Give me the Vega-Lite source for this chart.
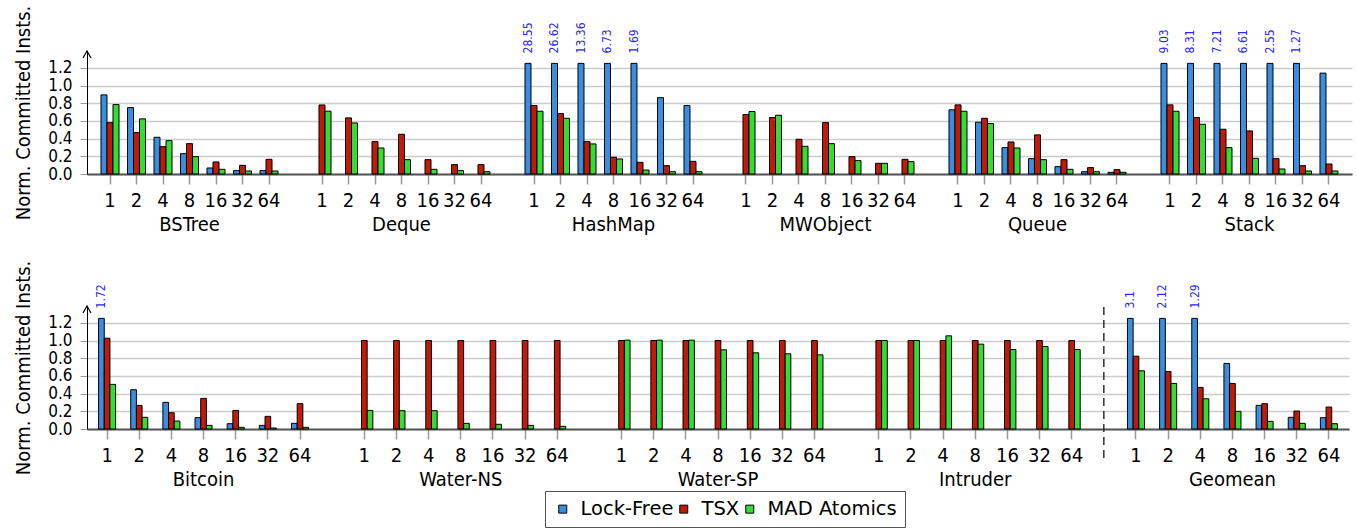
{
  "$schema": "https://vega.github.io/schema/vega-lite/v6.json",
  "padding": {"left": 13, "top": 5, "right": 5, "bottom": 5},
  "config": {
    "font": "DejaVu Sans Condensed",
    "view": {"stroke": null},
    "axis": {"labelFont": "DejaVu Sans Condensed", "titleFont": "DejaVu Sans Condensed", "labelColor": "black", "titleColor": "black", "titleFontWeight": "normal"},
    "axisX": {"domainColor": "#555555", "domainWidth": 2, "tickColor": "#999999", "tickSize": 10, "tickWidth": 1.5, "labelFontSize": 20, "labelPadding": 6, "labelLineHeight": 24, "grid": false, "title": null, "labelAngle": 0},
    "axisY": {"domainColor": "black", "domainWidth": 1, "tickColor": "#999999", "tickSize": 7, "labelFontSize": 17, "labelPadding": 8, "labelOverlap": false, "grid": true, "gridColor": "#cccccc", "gridWidth": 1.5, "titleFontSize": 20, "titlePadding": 14},
    "legend": {"orient": "none", "legendX": 458, "legendY": 440, "direction": "horizontal", "strokeColor": "#555555", "padding": 8, "symbolType": "square", "symbolSize": 64, "symbolStrokeColor": "black", "symbolStrokeWidth": 1, "labelFontSize": 19.5, "labelFont": "DejaVu Sans", "labelColor": "black", "columnPadding": 4, "labelOffset": 9}
  },
  "datasets": {
    "top": [
      {"g": "BSTree", "t": "1", "Lock-Free": 0.894, "TSX": 0.58, "MAD Atomics": 0.785},
      {"g": "BSTree", "t": "2", "Lock-Free": 0.75, "TSX": 0.468, "MAD Atomics": 0.623},
      {"g": "BSTree", "t": "4", "Lock-Free": 0.415, "TSX": 0.309, "MAD Atomics": 0.377},
      {"g": "BSTree", "t": "8", "Lock-Free": 0.23, "TSX": 0.343, "MAD Atomics": 0.196},
      {"g": "BSTree", "t": "16", "Lock-Free": 0.068, "TSX": 0.136, "MAD Atomics": 0.053},
      {"g": "BSTree", "t": "32", "Lock-Free": 0.038, "TSX": 0.098, "MAD Atomics": 0.034},
      {"g": "BSTree", "t": "64", "Lock-Free": 0.038, "TSX": 0.166, "MAD Atomics": 0.034},
      {"g": "Deque", "t": "1", "TSX": 0.78, "MAD Atomics": 0.71},
      {"g": "Deque", "t": "2", "TSX": 0.634, "MAD Atomics": 0.577},
      {"g": "Deque", "t": "4", "TSX": 0.366, "MAD Atomics": 0.294},
      {"g": "Deque", "t": "8", "TSX": 0.449, "MAD Atomics": 0.162},
      {"g": "Deque", "t": "16", "TSX": 0.162, "MAD Atomics": 0.053},
      {"g": "Deque", "t": "32", "TSX": 0.106, "MAD Atomics": 0.038},
      {"g": "Deque", "t": "64", "TSX": 0.106, "MAD Atomics": 0.026},
      {"g": "HashMap", "t": "1", "Lock-Free": 28.55, "TSX": 0.774, "MAD Atomics": 0.709},
      {"g": "HashMap", "t": "2", "Lock-Free": 26.62, "TSX": 0.683, "MAD Atomics": 0.63},
      {"g": "HashMap", "t": "4", "Lock-Free": 13.36, "TSX": 0.366, "MAD Atomics": 0.34},
      {"g": "HashMap", "t": "8", "Lock-Free": 6.73, "TSX": 0.189, "MAD Atomics": 0.17},
      {"g": "HashMap", "t": "16", "Lock-Free": 1.69, "TSX": 0.132, "MAD Atomics": 0.045},
      {"g": "HashMap", "t": "32", "Lock-Free": 0.863, "TSX": 0.094, "MAD Atomics": 0.026},
      {"g": "HashMap", "t": "64", "Lock-Free": 0.774, "TSX": 0.143, "MAD Atomics": 0.026},
      {"g": "MWObject", "t": "1", "TSX": 0.672, "MAD Atomics": 0.706},
      {"g": "MWObject", "t": "2", "TSX": 0.638, "MAD Atomics": 0.664},
      {"g": "MWObject", "t": "4", "TSX": 0.392, "MAD Atomics": 0.313},
      {"g": "MWObject", "t": "8", "TSX": 0.581, "MAD Atomics": 0.343},
      {"g": "MWObject", "t": "16", "TSX": 0.196, "MAD Atomics": 0.151},
      {"g": "MWObject", "t": "32", "TSX": 0.121, "MAD Atomics": 0.121},
      {"g": "MWObject", "t": "64", "TSX": 0.166, "MAD Atomics": 0.14},
      {"g": "Queue", "t": "1", "Lock-Free": 0.725, "TSX": 0.781, "MAD Atomics": 0.709},
      {"g": "Queue", "t": "2", "Lock-Free": 0.585, "TSX": 0.63, "MAD Atomics": 0.57},
      {"g": "Queue", "t": "4", "Lock-Free": 0.298, "TSX": 0.362, "MAD Atomics": 0.294},
      {"g": "Queue", "t": "8", "Lock-Free": 0.174, "TSX": 0.442, "MAD Atomics": 0.162},
      {"g": "Queue", "t": "16", "Lock-Free": 0.083, "TSX": 0.162, "MAD Atomics": 0.053},
      {"g": "Queue", "t": "32", "Lock-Free": 0.026, "TSX": 0.072, "MAD Atomics": 0.026},
      {"g": "Queue", "t": "64", "Lock-Free": 0.019, "TSX": 0.049, "MAD Atomics": 0.019},
      {"g": "Stack", "t": "1", "Lock-Free": 9.03, "TSX": 0.781, "MAD Atomics": 0.709},
      {"g": "Stack", "t": "2", "Lock-Free": 8.31, "TSX": 0.638, "MAD Atomics": 0.562},
      {"g": "Stack", "t": "4", "Lock-Free": 7.21, "TSX": 0.506, "MAD Atomics": 0.298},
      {"g": "Stack", "t": "8", "Lock-Free": 6.61, "TSX": 0.487, "MAD Atomics": 0.177},
      {"g": "Stack", "t": "16", "Lock-Free": 2.55, "TSX": 0.174, "MAD Atomics": 0.057},
      {"g": "Stack", "t": "32", "Lock-Free": 1.27, "TSX": 0.094, "MAD Atomics": 0.034},
      {"g": "Stack", "t": "64", "Lock-Free": 1.14, "TSX": 0.113, "MAD Atomics": 0.034}
    ],
    "bottom": [
      {"g": "Bitcoin", "t": "1", "Lock-Free": 1.72, "TSX": 1.026, "MAD Atomics": 0.504},
      {"g": "Bitcoin", "t": "2", "Lock-Free": 0.444, "TSX": 0.267, "MAD Atomics": 0.132},
      {"g": "Bitcoin", "t": "4", "Lock-Free": 0.301, "TSX": 0.184, "MAD Atomics": 0.09},
      {"g": "Bitcoin", "t": "8", "Lock-Free": 0.128, "TSX": 0.346, "MAD Atomics": 0.041},
      {"g": "Bitcoin", "t": "16", "Lock-Free": 0.06, "TSX": 0.21, "MAD Atomics": 0.019},
      {"g": "Bitcoin", "t": "32", "Lock-Free": 0.041, "TSX": 0.143, "MAD Atomics": 0.011},
      {"g": "Bitcoin", "t": "64", "Lock-Free": 0.064, "TSX": 0.286, "MAD Atomics": 0.019},
      {"g": "Water-NS", "t": "1", "TSX": 1.0, "MAD Atomics": 0.21},
      {"g": "Water-NS", "t": "2", "TSX": 1.0, "MAD Atomics": 0.207},
      {"g": "Water-NS", "t": "4", "TSX": 1.0, "MAD Atomics": 0.207},
      {"g": "Water-NS", "t": "8", "TSX": 1.0, "MAD Atomics": 0.064},
      {"g": "Water-NS", "t": "16", "TSX": 1.0, "MAD Atomics": 0.053},
      {"g": "Water-NS", "t": "32", "TSX": 1.0, "MAD Atomics": 0.041},
      {"g": "Water-NS", "t": "64", "TSX": 1.0, "MAD Atomics": 0.03},
      {"g": "Water-SP", "t": "1", "TSX": 1.0, "MAD Atomics": 1.004},
      {"g": "Water-SP", "t": "2", "TSX": 1.0, "MAD Atomics": 1.004},
      {"g": "Water-SP", "t": "4", "TSX": 1.0, "MAD Atomics": 1.004},
      {"g": "Water-SP", "t": "8", "TSX": 1.0, "MAD Atomics": 0.895},
      {"g": "Water-SP", "t": "16", "TSX": 1.0, "MAD Atomics": 0.861},
      {"g": "Water-SP", "t": "32", "TSX": 1.0, "MAD Atomics": 0.85},
      {"g": "Water-SP", "t": "64", "TSX": 1.0, "MAD Atomics": 0.838},
      {"g": "Intruder", "t": "1", "TSX": 1.0, "MAD Atomics": 1.0},
      {"g": "Intruder", "t": "2", "TSX": 1.0, "MAD Atomics": 1.0},
      {"g": "Intruder", "t": "4", "TSX": 1.0, "MAD Atomics": 1.053},
      {"g": "Intruder", "t": "8", "TSX": 1.0, "MAD Atomics": 0.959},
      {"g": "Intruder", "t": "16", "TSX": 1.0, "MAD Atomics": 0.898},
      {"g": "Intruder", "t": "32", "TSX": 1.0, "MAD Atomics": 0.932},
      {"g": "Intruder", "t": "64", "TSX": 1.0, "MAD Atomics": 0.898},
      {"g": "Geomean", "t": "1", "Lock-Free": 3.1, "TSX": 0.823, "MAD Atomics": 0.658},
      {"g": "Geomean", "t": "2", "Lock-Free": 2.12, "TSX": 0.65, "MAD Atomics": 0.515},
      {"g": "Geomean", "t": "4", "Lock-Free": 1.29, "TSX": 0.47, "MAD Atomics": 0.342},
      {"g": "Geomean", "t": "8", "Lock-Free": 0.741, "TSX": 0.515, "MAD Atomics": 0.199},
      {"g": "Geomean", "t": "16", "Lock-Free": 0.267, "TSX": 0.286, "MAD Atomics": 0.086},
      {"g": "Geomean", "t": "32", "Lock-Free": 0.132, "TSX": 0.203, "MAD Atomics": 0.064},
      {"g": "Geomean", "t": "64", "Lock-Free": 0.128, "TSX": 0.248, "MAD Atomics": 0.06}
    ]
  },
  "bounds": "flush",
  "spacing": 132,
  "resolve": {"scale": {"x": "independent", "y": "independent", "xOffset": "independent", "color": "shared"}},
  "vconcat": [
    {
      "width": 1265,
      "height": 123,
      "resolve": {"scale": {"x": "independent"}, "axis": {"x": "independent"}},
      "layer": [
        {
          "data": {"name": "top"},
          "transform": [
            {"fold": ["Lock-Free", "TSX", "MAD Atomics"], "as": ["s", "v"]},
            {"filter": "isValid(datum.v)"},
            {"calculate": "datum.g + '|' + datum.t", "as": "key"},
            {"calculate": "min(datum.v, 1.25)", "as": "vc"}
          ],
          "encoding": {
            "x": {
              "field": "key", "type": "nominal",
              "scale": {"domain": ["BSTree|1","BSTree|2","BSTree|4","BSTree|8","BSTree|16","BSTree|32","BSTree|64","_1","Deque|1","Deque|2","Deque|4","Deque|8","Deque|16","Deque|32","Deque|64","_2","HashMap|1","HashMap|2","HashMap|4","HashMap|8","HashMap|16","HashMap|32","HashMap|64","_3","MWObject|1","MWObject|2","MWObject|4","MWObject|8","MWObject|16","MWObject|32","MWObject|64","_4","Queue|1","Queue|2","Queue|4","Queue|8","Queue|16","Queue|32","Queue|64","_5","Stack|1","Stack|2","Stack|4","Stack|8","Stack|16","Stack|32","Stack|64"], "paddingInner": 0.32, "paddingOuter": 0.528},
              "axis": {
                "values": ["BSTree|1","BSTree|2","BSTree|4","BSTree|8","BSTree|16","BSTree|32","BSTree|64","Deque|1","Deque|2","Deque|4","Deque|8","Deque|16","Deque|32","Deque|64","HashMap|1","HashMap|2","HashMap|4","HashMap|8","HashMap|16","HashMap|32","HashMap|64","MWObject|1","MWObject|2","MWObject|4","MWObject|8","MWObject|16","MWObject|32","MWObject|64","Queue|1","Queue|2","Queue|4","Queue|8","Queue|16","Queue|32","Queue|64","Stack|1","Stack|2","Stack|4","Stack|8","Stack|16","Stack|32","Stack|64"],
                "labelExpr": "split(datum.value, '|')[1] == '8' ? [split(datum.value, '|')[1], split(datum.value, '|')[0]] : split(datum.value, '|')[1]"
              }
            },
            "y": {
              "field": "vc", "type": "quantitative",
              "scale": {"domain": [0, 1.39], "nice": false},
              "axis": {"title": "Norm. Committed Insts.", "values": [0, 0.2, 0.4, 0.6, 0.8, 1.0, 1.2], "format": ".1f"}
            }
          },
          "layer": [
            {
              "mark": {"type": "bar", "stroke": "black", "strokeWidth": 1},
              "encoding": {
                "xOffset": {"field": "s", "type": "nominal", "scale": {"domain": ["Lock-Free", "TSX", "MAD Atomics"]}},
                "color": {"field": "s", "type": "nominal", "scale": {"domain": ["Lock-Free", "TSX", "MAD Atomics"], "range": ["#3a8ee0", "#c01a0a", "#33dd33"]}, "legend": {"title": null, "columnPadding": 0, "labelOffset": 8}}
              }
            },
            {
              "transform": [{"filter": "datum.v > 1.25"}],
              "mark": {"type": "text", "angle": 270, "align": "left", "baseline": "middle", "dx": 10, "fontSize": 12, "font": "DejaVu Sans Condensed", "color": "#2828ff"},
              "encoding": {
                "xOffset": {"field": "s", "type": "nominal", "scale": {"domain": ["Lock-Free", "TSX", "MAD Atomics"]}},
                "text": {"field": "v", "type": "nominal"}
              }
            }
          ]
        },
        {
          "data": {"values": [{"arrow": "y"}]},
          "mark": {"type": "point", "shape": "M-0.57,1L0,0L0.57,1", "filled": false, "stroke": "black", "strokeWidth": 1.2, "size": 196, "opacity": 1},
          "encoding": {
            "x": {"datum": 0, "type": "quantitative", "scale": {"domain": [0, 1]}, "axis": null},
            "y": {"datum": 1.39, "type": "quantitative", "axis": {"title": "Norm. Committed Insts.", "values": [0, 0.2, 0.4, 0.6, 0.8, 1.0, 1.2], "format": ".1f"}}
          }
        }
      ]
    },
    {
      "width": 1262,
      "height": 123,
      "resolve": {"scale": {"x": "independent"}, "axis": {"x": "independent"}},
      "layer": [
        {
          "layer": [
            {
              "data": {"name": "bottom"},
              "transform": [
                {"fold": ["Lock-Free", "TSX", "MAD Atomics"], "as": ["s", "v"]},
                {"filter": "isValid(datum.v)"},
                {"calculate": "datum.g + '|' + datum.t", "as": "key"},
                {"calculate": "min(datum.v, 1.25)", "as": "vc"}
              ],
              "encoding": {
                "x": {
                  "field": "key", "type": "nominal",
                  "scale": {"domain": ["Bitcoin|1","Bitcoin|2","Bitcoin|4","Bitcoin|8","Bitcoin|16","Bitcoin|32","Bitcoin|64","_1","Water-NS|1","Water-NS|2","Water-NS|4","Water-NS|8","Water-NS|16","Water-NS|32","Water-NS|64","_2","Water-SP|1","Water-SP|2","Water-SP|4","Water-SP|8","Water-SP|16","Water-SP|32","Water-SP|64","_3","Intruder|1","Intruder|2","Intruder|4","Intruder|8","Intruder|16","Intruder|32","Intruder|64","_4","Geomean|1","Geomean|2","Geomean|4","Geomean|8","Geomean|16","Geomean|32","Geomean|64"], "paddingInner": 0.47, "paddingOuter": 0.36},
                  "axis": {
                    "values": ["Bitcoin|1","Bitcoin|2","Bitcoin|4","Bitcoin|8","Bitcoin|16","Bitcoin|32","Bitcoin|64","Water-NS|1","Water-NS|2","Water-NS|4","Water-NS|8","Water-NS|16","Water-NS|32","Water-NS|64","Water-SP|1","Water-SP|2","Water-SP|4","Water-SP|8","Water-SP|16","Water-SP|32","Water-SP|64","Intruder|1","Intruder|2","Intruder|4","Intruder|8","Intruder|16","Intruder|32","Intruder|64","Geomean|1","Geomean|2","Geomean|4","Geomean|8","Geomean|16","Geomean|32","Geomean|64"],
                    "labelExpr": "split(datum.value, '|')[1] == '8' ? [split(datum.value, '|')[1], split(datum.value, '|')[0]] : split(datum.value, '|')[1]"
                  }
                },
                "y": {
                  "field": "vc", "type": "quantitative",
                  "scale": {"domain": [0, 1.39], "nice": false},
                  "axis": {"title": "Norm. Committed Insts.", "values": [0, 0.2, 0.4, 0.6, 0.8, 1.0, 1.2], "format": ".1f"}
                }
              },
              "layer": [
                {
                  "mark": {"type": "bar", "stroke": "black", "strokeWidth": 1},
                  "encoding": {
                    "xOffset": {"field": "s", "type": "nominal", "scale": {"domain": ["Lock-Free", "TSX", "MAD Atomics"]}},
                    "color": {"field": "s", "type": "nominal", "scale": {"domain": ["Lock-Free", "TSX", "MAD Atomics"], "range": ["#3a8ee0", "#c01a0a", "#33dd33"]}, "legend": {"title": null, "columnPadding": 0, "labelOffset": 8}}
                  }
                },
                {
                  "transform": [{"filter": "datum.v > 1.25"}],
                  "mark": {"type": "text", "angle": 270, "align": "left", "baseline": "middle", "dx": 10, "fontSize": 12, "font": "DejaVu Sans Condensed", "color": "#2828ff"},
                  "encoding": {
                    "xOffset": {"field": "s", "type": "nominal", "scale": {"domain": ["Lock-Free", "TSX", "MAD Atomics"]}},
                    "text": {"field": "v", "type": "nominal"}
                  }
                }
              ]
            },
            {
              "data": {"values": [{"sep": "Geomean"}]},
              "mark": {"type": "rule", "strokeDash": [8, 5], "color": "#222222", "strokeWidth": 1.4},
              "encoding": {
                "x": {"datum": "_4", "type": "nominal"},
                "y": {"datum": 1.38, "type": "quantitative", "axis": {"title": "Norm. Committed Insts.", "values": [0, 0.2, 0.4, 0.6, 0.8, 1.0, 1.2], "format": ".1f"}},
                "y2": {"datum": -0.38}
              }
            }
          ]
        },
        {
          "data": {"values": [{"arrow": "y"}]},
          "mark": {"type": "point", "shape": "M-0.57,1L0,0L0.57,1", "filled": false, "stroke": "black", "strokeWidth": 1.2, "size": 196, "opacity": 1},
          "encoding": {
            "x": {"datum": 0, "type": "quantitative", "scale": {"domain": [0, 1]}, "axis": null},
            "y": {"datum": 1.39, "type": "quantitative", "axis": {"title": "Norm. Committed Insts.", "values": [0, 0.2, 0.4, 0.6, 0.8, 1.0, 1.2], "format": ".1f"}}
          }
        }
      ]
    }
  ]
}
